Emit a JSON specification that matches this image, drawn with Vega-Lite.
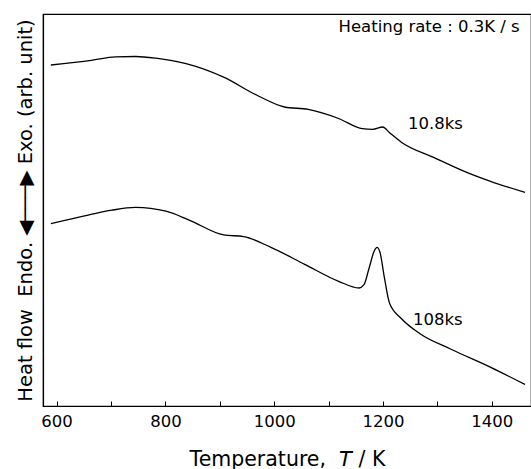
{
  "$schema": "https://vega.github.io/schema/vega-lite/v6.json",
  "width": 488,
  "height": 392,
  "autosize": "none",
  "padding": {"left": 43, "top": 14, "right": 0, "bottom": 63},
  "background": "white",
  "config": {
    "font": "DejaVu Sans",
    "view": {"stroke": "black", "strokeWidth": 1.2}
  },
  "datasets": {
    "curves": [
      {"T": 589.5, "v": 341, "s": "10.8ks"},
      {"T": 664, "v": 345.7, "s": "10.8ks"},
      {"T": 708, "v": 349.1, "s": "10.8ks"},
      {"T": 745, "v": 349.5, "s": "10.8ks"},
      {"T": 782.5, "v": 347.8, "s": "10.8ks"},
      {"T": 838, "v": 342.3, "s": "10.8ks"},
      {"T": 907, "v": 328.8, "s": "10.8ks"},
      {"T": 969, "v": 310.5, "s": "10.8ks"},
      {"T": 1019, "v": 299, "s": "10.8ks"},
      {"T": 1062.5, "v": 296.6, "s": "10.8ks"},
      {"T": 1118.5, "v": 287.5, "s": "10.8ks"},
      {"T": 1162, "v": 277.3, "s": "10.8ks"},
      {"T": 1181, "v": 276.7, "s": "10.8ks"},
      {"T": 1199.5, "v": 279, "s": "10.8ks"},
      {"T": 1212, "v": 273.3, "s": "10.8ks"},
      {"T": 1233.6, "v": 263.8, "s": "10.8ks"},
      {"T": 1293, "v": 248.6, "s": "10.8ks"},
      {"T": 1355, "v": 233.3, "s": "10.8ks"},
      {"T": 1405, "v": 223.2, "s": "10.8ks"},
      {"T": 1461, "v": 213.7, "s": "10.8ks"},
      {"T": 589.5, "v": 182.3, "s": "108ks"},
      {"T": 658, "v": 190.8, "s": "108ks"},
      {"T": 701.5, "v": 195.8, "s": "108ks"},
      {"T": 745, "v": 198.6, "s": "108ks"},
      {"T": 801, "v": 194.8, "s": "108ks"},
      {"T": 844.7, "v": 185.7, "s": "108ks"},
      {"T": 907, "v": 171.1, "s": "108ks"},
      {"T": 944, "v": 169.4, "s": "108ks"},
      {"T": 994, "v": 158.6, "s": "108ks"},
      {"T": 1056, "v": 141.7, "s": "108ks"},
      {"T": 1118.5, "v": 124.7, "s": "108ks"},
      {"T": 1156, "v": 118, "s": "108ks"},
      {"T": 1165, "v": 121.3, "s": "108ks"},
      {"T": 1174.6, "v": 138.3, "s": "108ks"},
      {"T": 1184, "v": 155.2, "s": "108ks"},
      {"T": 1189, "v": 158.6, "s": "108ks"},
      {"T": 1194.5, "v": 153.5, "s": "108ks"},
      {"T": 1202.6, "v": 128.1, "s": "108ks"},
      {"T": 1212, "v": 102.7, "s": "108ks"},
      {"T": 1233.6, "v": 87.5, "s": "108ks"},
      {"T": 1268, "v": 72.3, "s": "108ks"},
      {"T": 1324, "v": 57, "s": "108ks"},
      {"T": 1399, "v": 38.4, "s": "108ks"},
      {"T": 1461, "v": 21.5, "s": "108ks"}
    ],
    "labels": [
      {"T": 1284.7, "v": 379, "text": "Heating rate : 0.3K / s", "kind": "header"},
      {"T": 1246, "v": 282.4, "text": "10.8ks", "kind": "curve"},
      {"T": 1255, "v": 86, "text": "108ks", "kind": "curve"}
    ]
  },
  "layer": [
    {
      "data": {"name": "curves"},
      "mark": {"type": "line", "color": "black", "strokeWidth": 1.3, "interpolate": "monotone"},
      "encoding": {
        "x": {
          "field": "T", "type": "quantitative",
          "scale": {"domain": [575, 1472], "nice": false, "zero": false},
          "axis": {
            "title": "Temperature,\u00a0\u00a0𝘛 / K",
            "titleFont": "DejaVu Sans",
            "titleFontSize": 20.5,
            "titleFontWeight": "normal",
            "titleColor": "black",
            "titleY": 59,
            "titleBaseline": "alphabetic",
            "values": [600, 700, 800, 900, 1000, 1100, 1200, 1300, 1400],
            "labelExpr": "datum.value % 200 == 0 ? datum.label : ''",
            "format": "d",
            "labelFont": "DejaVu Sans",
            "labelFontSize": 16.5,
            "labelColor": "black",
            "labelPadding": 12,
            "labelDx": 3,
            "tickSize": -5,
            "tickColor": "black",
            "domainColor": "black",
            "domainWidth": 1.2,
            "grid": false
          }
        },
        "y": {
          "field": "v", "type": "quantitative",
          "scale": {"domain": [0, 392], "nice": false},
          "axis": {
            "title": "Heat flow\u00a0\u00a0Endo.\u00a0◀───▶\u00a0Exo.\u00a0(arb. unit)",
            "titleFont": "DejaVu Sans",
            "titleFontSize": 19.5,
            "titleFontWeight": "normal",
            "titleColor": "black",
            "titleX": -11.5,
            "titleY": 196,
            "titleAngle": -90,
            "titleAlign": "center",
            "titleBaseline": "alphabetic",
            "labels": false,
            "ticks": false,
            "grid": false,
            "domainColor": "black",
            "domainWidth": 1.2
          }
        },
        "detail": {"field": "s"}
      }
    },
    {
      "data": {"name": "labels"},
      "transform": [{"filter": "datum.kind == 'header'"}],
      "mark": {"type": "text", "color": "black", "baseline": "middle", "align": "center", "font": "DejaVu Sans", "fontSize": 16.5},
      "encoding": {
        "x": {"field": "T", "type": "quantitative"},
        "y": {"field": "v", "type": "quantitative"},
        "text": {"field": "text"}
      }
    },
    {
      "data": {"name": "labels"},
      "transform": [{"filter": "datum.kind == 'curve'"}],
      "mark": {"type": "text", "color": "black", "baseline": "middle", "align": "left", "font": "DejaVu Sans", "fontSize": 16.5},
      "encoding": {
        "x": {"field": "T", "type": "quantitative"},
        "y": {"field": "v", "type": "quantitative"},
        "text": {"field": "text"}
      }
    }
  ]
}
